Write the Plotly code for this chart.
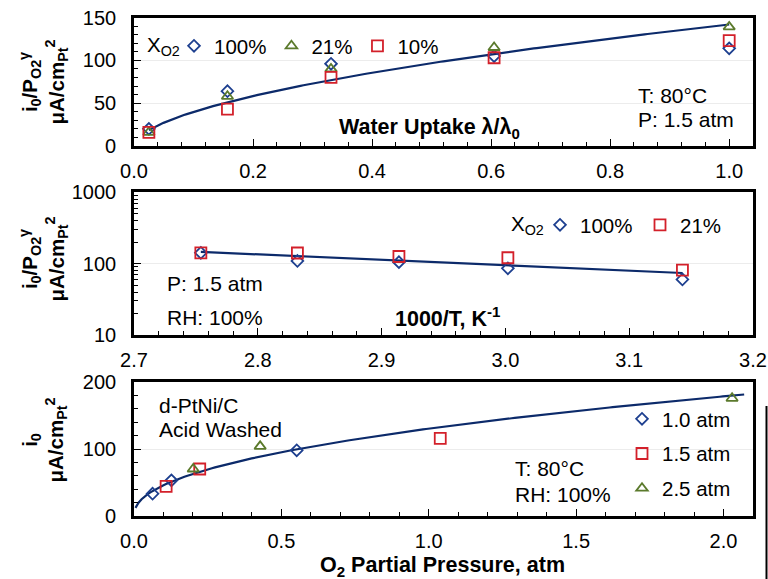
import numpy as np
import plotly.graph_objects as go

# ---------------- data ----------------
# Panel 1: exchange current density vs. water uptake (T 80 °C, P 1.5 atm)
uptake = [0.025, 0.157, 0.331, 0.605, 1.0]
io_x100 = [20, 64, 96, 105, 114]
io_x21 = [16, 58, 90, 115, 139]
io_x10 = [16, 43, 80, 103, 123]

# Panel 2: Arrhenius plot (P 1.5 atm, RH 100 %)
inv_T = [2.754, 2.832, 2.914, 3.002, 3.143]
arr_x100 = [142, 109, 105, 86, 60]
arr_x21 = [142, 141, 126, 121, 81]

# Panel 3: i0 vs. O2 partial pressure, d-PtNi/C acid washed
p_10 = [0.063, 0.127, 0.552]
i_10 = [33, 53, 98]
p_15 = [0.109, 0.223, 1.039]
i_15 = [44, 70, 116]
p_25 = [0.201, 0.428, 2.029]
i_25 = [70, 104, 176]

# trendline extents
fit1_span = (0.025, 1.0)
fit2_span = (2.754, 3.143)
fit3_span = (0.005, 2.07)

NAVY = "#1d3f8f"
LINE = "#0c2a6a"
RED = "#d3202a"
OLIVE = "#5b7a2c"
FONT = "Liberation Sans, Arial, sans-serif"
W, H = 768, 579


def px(x):
    return x / W


def py(y):
    return 1 - y / H


# ---------------- trendlines (least squares) ----------------
def power_fit(xs, ys, span, n=200):
    b, lna = np.polyfit(np.log(xs), np.log(ys), 1)
    xx = np.linspace(span[0], span[1], n)
    return xx, np.exp(lna) * xx ** b


def expo_fit(xs, ys, span, n=50):
    b, lna = np.polyfit(np.asarray(xs), np.log(ys), 1)
    xx = np.linspace(span[0], span[1], n)
    return xx, np.exp(lna + b * xx)


f1x, f1y = power_fit(uptake * 3, io_x100 + io_x21 + io_x10, fit1_span)
f2x, f2y = expo_fit(inv_T * 2, arr_x100 + arr_x21, fit2_span)
f3x, f3y = power_fit(p_10 + p_15 + p_25, i_10 + i_15 + i_25, fit3_span)

fig = go.Figure()


def pts(x, y, sym, color, size, name, ax, legend, group=None):
    fig.add_trace(go.Scatter(
        x=x, y=y, mode="markers", name=name,
        marker=dict(symbol=sym, size=size, color=color, line=dict(width=1.8, color=color)),
        xaxis="x" + ax, yaxis="y" + ax, legend=legend, legendgroup=group,
    ))


def fit(x, y, ax):
    fig.add_trace(go.Scatter(
        x=x, y=y, mode="lines", line=dict(color=LINE, width=2.2),
        showlegend=False, xaxis="x" + ax, yaxis="y" + ax, hoverinfo="skip",
    ))


# panel 1
fit(f1x, f1y, "")
pts(uptake, io_x100, "diamond-open", NAVY, 9, "100%", "", "legend")
pts(uptake, io_x21, "triangle-up-open", OLIVE, 10, "21%", "", "legend")
pts(uptake, io_x10, "square-open", RED, 11, "10%", "", "legend")

# panel 2
fit(f2x, f2y, "2")
pts(inv_T, arr_x100, "diamond-open", NAVY, 9, "100%", "2", "legend2")
pts(inv_T, arr_x21, "square-open", RED, 11, "21%", "2", "legend2")

# panel 3
fit(f3x, f3y, "3")
pts(p_10, i_10, "diamond-open", NAVY, 9, "1.0 atm", "3", "legend3", "a")
pts(p_15, i_15, "square-open", RED, 11, "1.5 atm", "3", "legend3", "b")
pts(p_25, i_25, "triangle-up-open", OLIVE, 10, "2.5 atm", "3", "legend3", "c")

XDOM = [px(134), px(753)]
tickfont = dict(family=FONT, size=20, color="black")


def xaxis(anchor, rng, dtick, minor):
    return dict(
        domain=XDOM, anchor=anchor, range=rng, dtick=dtick, tick0=0,
        tickformat=".1f", showline=True, linecolor="black", linewidth=2.6,
        mirror=True, ticks="inside", ticklen=7, tickwidth=1.2, tickcolor="black",
        minor=dict(dtick=minor, ticks="inside", ticklen=4, tickwidth=1.2, tickcolor="black"),
        showgrid=False, zeroline=False, tickfont=tickfont, ticklabelstandoff=5,
        automargin=False,
    )


def yaxis(anchor, dom, rng, dtick, minor, log=False):
    d = dict(
        domain=dom, anchor=anchor, range=rng, dtick=dtick,
        showline=True, linecolor="black", linewidth=2.6, mirror=True,
        ticks="inside", ticklen=7, tickwidth=1.2, tickcolor="black",
        minor=dict(dtick=minor, ticks="inside", ticklen=4, tickwidth=1.2, tickcolor="black"),
        showgrid=True, gridcolor="#ececec", gridwidth=1, zeroline=False,
        tickfont=tickfont, ticklabelstandoff=11, automargin=False,
    )
    if log:
        d["type"] = "log"
    return d


LEG_FONT = dict(family=FONT, size=20.5, color="black")

fig.update_layout(
    width=W, height=H, margin=dict(l=0, r=0, t=0, b=0, autoexpand=False),
    paper_bgcolor="white", plot_bgcolor="white",
    font=dict(family=FONT, size=20, color="black"),
    xaxis=xaxis("y", [0, 1.04], 0.2, 0.04),
    yaxis=yaxis("x", [py(146), py(17.5)], [0, 150], 50, 10),
    xaxis2=xaxis("y2", [2.7, 3.2], 0.1, 0.02),
    yaxis2=yaxis("x2", [py(335), py(192.3)], [1, 3], 1, "D1", log=True),
    xaxis3=xaxis("y3", [0, 2.1], 0.5, 0.1),
    yaxis3=yaxis("x3", [py(515.7), py(382.3)], [0, 200], 100, 20),
    legend=dict(
        orientation="h", x=px(174), y=py(46), xanchor="left", yanchor="middle",
        bgcolor="rgba(0,0,0,0)", font=LEG_FONT,
    ),
    legend2=dict(
        orientation="h", x=px(540), y=py(225), xanchor="left", yanchor="middle",
        bgcolor="rgba(0,0,0,0)", font=LEG_FONT, entrywidth=55,
    ),
    legend3=dict(
        orientation="v", x=px(622), y=py(399), xanchor="left", yanchor="top",
        bgcolor="rgba(0,0,0,0)", font=LEG_FONT, tracegroupgap=5,
    ),
    showlegend=True,
)

ann = []


def text(x, y, s, size=21, bold=False, xanchor="left", angle=0):
    ann.append(dict(
        x=px(x), y=py(y), xref="paper", yref="paper", text=("<b>%s</b>" % s) if bold else s,
        showarrow=False, xanchor=xanchor, yanchor="middle", textangle=angle,
        font=dict(family=FONT, size=size, color="black"),
    ))


# y-axis titles
text(43.5, 82, "i<sub>0</sub>/P<sub>O2</sub><sup>γ</sup><br>μA/cm<sub>Pt</sub><sup>2</sup>", 20.5, True, "center", -90)
text(43.5, 259, "i<sub>0</sub>/P<sub>O2</sub><sup>γ</sup><br>μA/cm<sub>Pt</sub><sup>2</sup>", 20.5, True, "center", -90)
text(43.5, 440, "i<sub>0</sub><br>μA/cm<sub>Pt</sub><sup>2</sup>", 20.5, True, "center", -90)

# x-axis titles
text(429, 128, "Water Uptake λ/λ<sub>0</sub>", 21.5, True, "center")
text(447, 317, "1000/T, K<sup>-1</sup>", 21.5, True, "center")
text(442, 566, "O<sub>2</sub> Partial Pressure, atm", 21.5, True, "center")

# legend headings
text(145, 46, "X<sub>O2</sub>", 20.5)
text(509, 225, "X<sub>O2</sub>", 20.5)

# condition labels
text(636, 95, "T: 80°C")
text(636, 119, "P: 1.5 atm")
text(165, 283, "P: 1.5 atm")
text(165, 317, "RH: 100%")
text(157, 405, "d-PtNi/C")
text(157, 429, "Acid Washed")
text(513, 468, "T: 80°C")
text(513, 494, "RH: 100%")

fig.update_layout(
    annotations=ann,
    shapes=[dict(type="line", xref="paper", yref="paper", x0=px(766.5), x1=px(766.5),
                 y0=py(406), y1=0, line=dict(color="black", width=2))],
)

fig.write_html("out.html")
